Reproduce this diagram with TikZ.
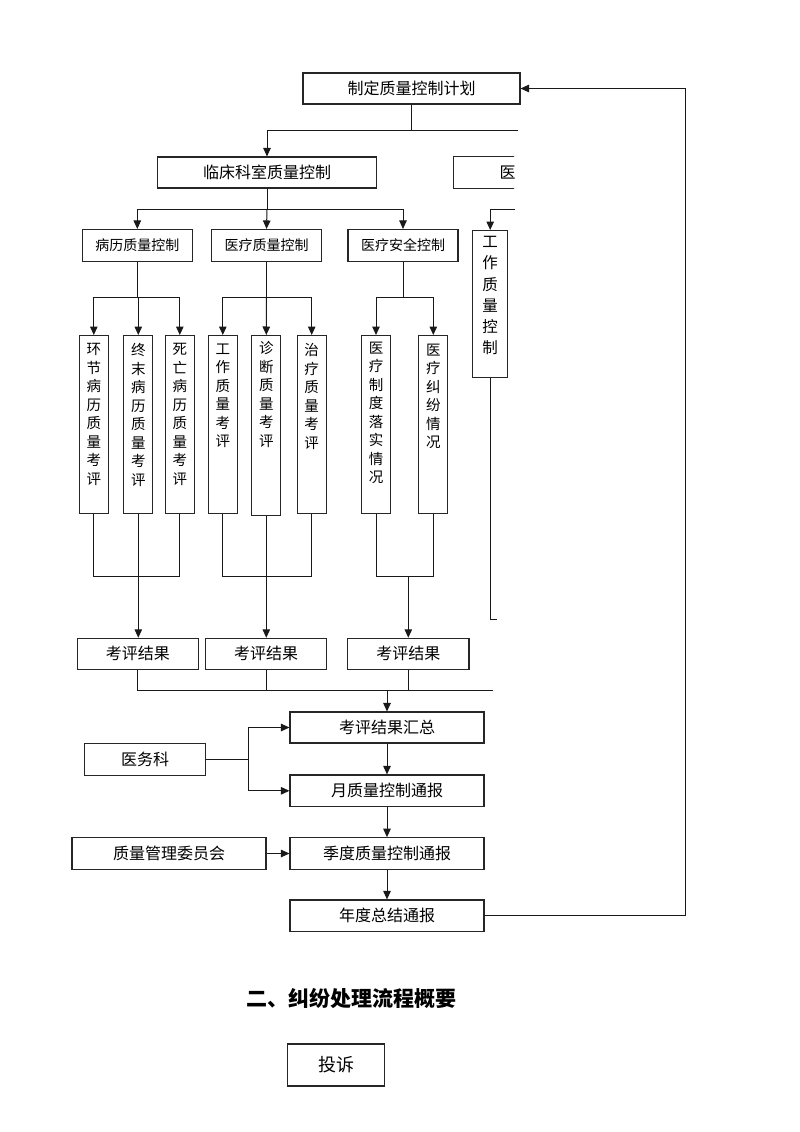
\documentclass[tikz,border=0pt]{standalone}
\usepackage{fontspec}
\setmainfont{Noto Sans CJK SC}
\usetikzlibrary{arrows.meta,calc}
\tikzset{
  ln/.style={draw=black!90, line width=1pt},
  arr/.style={ln, -{Triangle[length=8.5pt,width=7.5pt]}},
  hbox/.style={draw=black!85, line width=1.1pt, rectangle, inner sep=0pt, font=\fontsize{16}{16}\selectfont},
  sbox/.style={draw=black!85, line width=1.1pt, rectangle, inner sep=0pt, font=\fontsize{14}{14}\selectfont},
  vbox/.style={draw=black!85, line width=1.1pt, rectangle, inner sep=0pt, minimum width=29pt},
  vtext/.style={inner sep=0pt, align=center, anchor=north, font=\fontsize{14.5}{18.5}\selectfont},
}
\begin{document}
\begin{tikzpicture}[x=1pt,y=-1pt]
\useasboundingbox[fill=white] (0,0) rectangle (800,1132);

% top level
\node[hbox, minimum width=217pt, minimum height=31pt] (plan) at (411.5,88.5) {制定质量控制计划};
\node[hbox, minimum width=219pt, minimum height=31pt] (clinic) at (267,172.5) {临床科室质量控制};
\begin{scope}
  \clip (440,150) rectangle (514,196);
  \node[hbox, minimum width=120pt, minimum height=32pt, anchor=north west] (yibox) at (453.3,156.3) {};
  \node[inner sep=0pt, anchor=west, font=\fontsize{16}{16}\selectfont] (yitxt) at (499.5,172.5) {医};
\end{scope}

\coordinate (j1) at (411.5,130);
\coordinate (e1) at (518,130);
\draw[arr] (plan.south) -- (j1) -| (clinic.north);
\draw[ln] (j1) -- (e1);

% second level
\node[sbox, minimum width=109.5pt, minimum height=32pt] (bl) at (137.3,245.5) {病历质量控制};
\node[sbox, minimum width=110pt, minimum height=32pt] (yl) at (266.5,245.5) {医疗质量控制};
\node[sbox, minimum width=110pt, minimum height=32pt] (aq) at (403,245.5) {医疗安全控制};
\coordinate (j2) at (267,209);
\draw[ln] (clinic.south) -- (j2);
\draw[arr] (j2) -| (bl.north);
\draw[arr] (j2) -| (aq.north);
\draw[arr] (j2) -- (yl.north);

% right branch
\node[vbox, minimum width=35pt, minimum height=146.7pt, anchor=north] (gz) at (490.2,230) {};
\node[vtext, font=\fontsize{15.5}{21.3}\selectfont] (gzt) at ($(gz.north)+(0,6)$) {工\\作\\质\\量\\控\\制};
\coordinate (e2) at (515,209);
\coordinate (e3) at (497,619.3);
\draw[arr] (e2) -| (gz.north);
\draw[ln] (gz.south) |- (e3);

% third level boxes
\node[vbox, minimum height=178.3pt, anchor=north] (h1) at (93.8,335) {};
\node[vbox, minimum height=178.3pt, anchor=north] (h2) at (138.3,335) {};
\node[vbox, minimum height=178.3pt, anchor=north] (h3) at (179.8,335) {};
\node[vbox, minimum height=178.3pt, anchor=north] (g1) at (222.8,335) {};
\node[vbox, minimum height=180pt, anchor=north] (g2) at (266.3,335) {};
\node[vbox, minimum height=178.3pt, anchor=north] (g3) at (311.7,335) {};
\node[vbox, minimum height=178pt, anchor=north] (s1) at (376,335) {};
\node[vbox, minimum height=178.3pt, anchor=north] (s2) at (433.3,335) {};

\node[vtext] (h1t) at ($(h1.north)+(0,8.5)$) {环\\节\\病\\历\\质\\量\\考\\评};
\node[vtext] (h2t) at ($(h2.north)+(0,8.5)$) {终\\末\\病\\历\\质\\量\\考\\评};
\node[vtext] (h3t) at ($(h3.north)+(0,8.5)$) {死\\亡\\病\\历\\质\\量\\考\\评};
\node[vtext] (g1t) at ($(g1.north)+(0,8.5)$) {工\\作\\质\\量\\考\\评};
\node[vtext] (g2t) at ($(g2.north)+(0,6.5)$) {诊\\断\\质\\量\\考\\评};
\node[vtext] (g3t) at ($(g3.north)+(0,8.5)$) {治\\疗\\质\\量\\考\\评};
\node[vtext] (s1t) at ($(s1.north)+(0,6.5)$) {医\\疗\\制\\度\\落\\实\\情\\况};
\node[vtext] (s2t) at ($(s2.north)+(0,8.5)$) {医\\疗\\纠\\纷\\情\\况};

% connectors level 2 -> 3
\coordinate (k1) at (137.3,297.5);
\coordinate (k2) at (266.5,297.5);
\coordinate (k3) at (403,297.5);
\draw[ln] (bl.south) -- (k1);
\draw[arr] (k1) -| (h1.north);
\draw[arr] (k1) -| (h3.north);
\draw[arr] (k1) -| (h2.north);
\draw[ln] (yl.south) -- (k2);
\draw[ln] (aq.south) -- (k3);
\draw[arr] (k2) -| (g1.north);
\draw[arr] (k2) -- (g2.north);
\draw[arr] (k2) -| (g3.north);
\draw[arr] (k3) -| (s1.north);
\draw[arr] (k3) -| (s2.north);

% result boxes
\node[hbox, minimum width=121pt, minimum height=31pt] (kp1) at (137.8,653.8) {考评结果};
\node[hbox, minimum width=121pt, minimum height=31pt] (kp2) at (266.2,653.8) {考评结果};
\node[hbox, minimum width=121.3pt, minimum height=31pt] (kp3) at (408.3,653.8) {考评结果};

\coordinate (m1) at (138.3,576);
\coordinate (m2) at (266.3,576);
\coordinate (m3) at (408.3,576);
\draw[ln] (h1.south) |- (h3.south |- m1) -- (h3.south);
\draw[arr] (h2.south) -- (h2.south |- kp1.north);
\draw[ln] (g1.south) |- (g3.south |- m2) -- (g3.south);
\draw[arr] (g2.south) -- (g2.south |- kp2.north);
\draw[ln] (s1.south) |- (s2.south |- m3) -- (s2.south);
\draw[arr] (m3) -- (kp3.north);

% summary chain
\node[hbox, minimum width=194pt, minimum height=31pt] (hz) at (387,727.5) {考评结果汇总};
\node[hbox, minimum width=120.7pt, minimum height=31.7pt] (ywk) at (145,759.2) {医务科};
\node[hbox, minimum width=194pt, minimum height=31.7pt] (yue) at (387,790.8) {月质量控制通报};
\node[hbox, minimum width=194pt, minimum height=31.6pt] (zlw) at (169,853.5) {质量管理委员会};
\node[hbox, minimum width=194pt, minimum height=31.6pt] (jd) at (387,853.5) {季度质量控制通报};
\node[hbox, minimum width=194pt, minimum height=31.7pt] (nd) at (387,915.8) {年度总结通报};

\coordinate (n1) at (138.3,690.7);
\coordinate (n4) at (493.3,690.7);
\coordinate (nx) at (387,690.7);
\draw[ln] (kp1.south) -- (kp1.south |- n1) -- (n4);
\draw[ln] (kp2.south) -- (kp2.south |- n1);
\draw[ln] (kp3.south) -- (kp3.south |- n1);
\draw[arr] (nx) -- (hz.north);

\coordinate (jy) at (248,759.2);
\draw[ln] (ywk.east) -- (jy);
\draw[arr] (jy) |- (hz.west);
\draw[arr] (jy) |- (yue.west);
\draw[arr] (hz.south) -- (yue.north);
\draw[arr] (yue.south) -- (jd.north);
\draw[arr] (jd.south) -- (nd.north);
\draw[arr] (zlw.east) -- (jd.west);

\coordinate (fbx) at (685.5,500);
\draw[arr] (nd.east) -- (nd.east -| fbx) -- (plan.east -| fbx) -- (plan.east);

% second section
\node[inner sep=0pt, font=\fontsize{21}{21}\selectfont\bfseries] (head) at (351.5,998.5) {二、纠纷处理流程概要};
\node[hbox, minimum width=96.6pt, minimum height=42pt, font=\fontsize{18}{18}\selectfont] (ts) at (336,1065) {投诉};
\end{tikzpicture}
\end{document}
